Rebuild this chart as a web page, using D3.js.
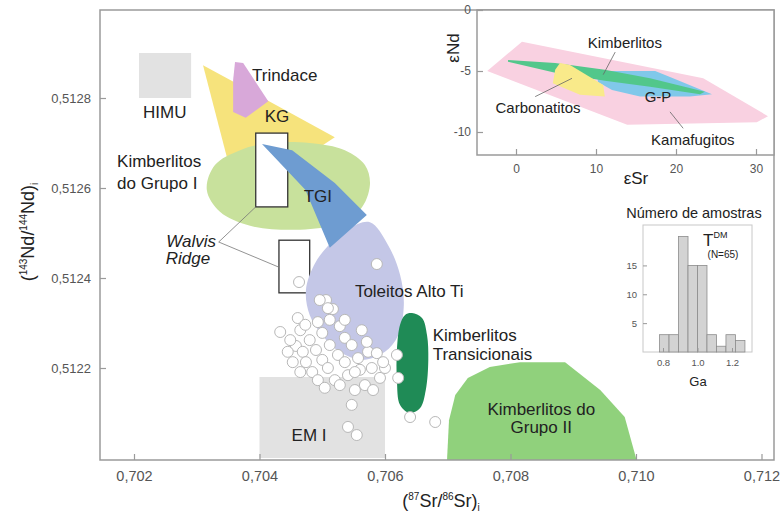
<!DOCTYPE html>
<html><head><meta charset="utf-8">
<script src="https://cdn.jsdelivr.net/npm/d3@7/dist/d3.min.js"></script>
<style>body{margin:0;background:#fff}svg{display:block;font-family:"Liberation Sans",Arial,sans-serif}</style>
</head><body><svg id="c" width="781" height="518"></svg>
<script>
// ---------- MAIN DIAGRAM DATA (87Sr/86Sr vs 143Nd/144Nd) ----------
const xTicks = [0.702, 0.704, 0.706, 0.708, 0.710, 0.712];
const yTicks = [0.5122, 0.5124, 0.5126, 0.5128];

const himuBox = [[0.70208, 0.5128], [0.70291, 0.5129]];
const em1Box = [[0.704, 0.512], [0.706, 0.51218]];
const walvisBoxA = [[0.70394, 0.512558], [0.70445, 0.512722]];
const walvisBoxB = [[0.70431, 0.512367], [0.70480, 0.512484]];

const kgField = [[0.70310,0.512873],[0.70520,0.512713],[0.70465,0.512662],[0.70350,0.512658]];
const trindadeField = [[0.70361,0.51288],[0.70374,0.512878],[0.70414,0.512793],[0.70378,0.512756],[0.70358,0.512769],[0.70358,0.51284]];
const grupoIField = [[0.70316,0.512596],[0.70329,0.512651],[0.70369,0.512684],[0.70417,0.5127],[0.70480,0.5127],[0.70536,0.512684],[0.70568,0.512651],[0.70576,0.512607],[0.70560,0.512551],[0.70512,0.512516],[0.70449,0.512507],[0.70385,0.512516],[0.70337,0.512547]];
const tgiField = [[0.70404,0.512698],[0.70452,0.512684],[0.70520,0.512611],[0.70571,0.51254],[0.70512,0.512467],[0.70473,0.512596]];
const toleitosField = [[0.70509,0.512471],[0.70544,0.512511],[0.70576,0.512524],[0.70605,0.512473],[0.70624,0.512407],[0.70630,0.51234],[0.70621,0.512273],[0.70600,0.512236],[0.70563,0.512218],[0.70528,0.512236],[0.70500,0.512273],[0.70480,0.512318],[0.70474,0.512373],[0.70487,0.512429]];
const transField = [[0.70643,0.512322],[0.70659,0.512311],[0.70667,0.512273],[0.70669,0.512218],[0.70665,0.512151],[0.70656,0.512111],[0.70640,0.5121],[0.70624,0.512118],[0.70619,0.512173],[0.70619,0.51224],[0.70624,0.512296],[0.70632,0.512318]];
const grupoIIField = [[0.70698,0.51194],[0.70699,0.512],[0.70702,0.512084],[0.70712,0.51214],[0.70732,0.512178],[0.70767,0.512202],[0.70815,0.512213],[0.70887,0.512213],[0.70943,0.512151],[0.70982,0.512091],[0.71000,0.512],[0.71002,0.51194]];

const samplesSr = [0.70587,0.70463,0.70433,0.70461,0.70506,0.70517,0.70493,0.70512,0.70528,0.70500,0.70480,0.70458,0.70445,0.70469,0.70490,0.70512,0.70536,0.70547,0.70525,0.70500,0.70474,0.70453,0.70484,0.70509,0.70536,0.70557,0.70573,0.70560,0.70541,0.70520,0.70493,0.70579,0.70592,0.70568,0.70581,0.70552,0.70600,0.70547,0.70541,0.70555,0.70619,0.70621,0.70640,0.70680,0.70509,0.70571,0.70587,0.70465,0.70496,0.70473,0.70449,0.70536,0.70552,0.70504,0.70528,0.70465,0.70563,0.70597];
const samplesNd = [0.512431,0.512391,0.51228,0.512311,0.512351,0.512331,0.512302,0.512307,0.512293,0.512278,0.512262,0.512249,0.512236,0.512236,0.51224,0.512251,0.512267,0.512251,0.512229,0.512218,0.512213,0.512213,0.512191,0.5122,0.512213,0.512222,0.512236,0.512196,0.512184,0.512173,0.512173,0.5122,0.512178,0.512162,0.512151,0.512151,0.5122,0.512118,0.512069,0.512051,0.512229,0.512178,0.512091,0.51208,0.512333,0.512258,0.512233,0.512284,0.512351,0.512296,0.512262,0.512307,0.512191,0.512156,0.512162,0.512191,0.512284,0.512213];

const mainLabels = [
  {t:"HIMU", at:[0.70249,0.512767], a:"middle"},
  {t:"Trindace", at:[0.70388,0.512849], a:"start"},
  {t:"KG", at:[0.70428,0.512758], a:"middle"},
  {t:"Kimberlitos", at:[0.70173,0.512658], a:"start"},
  {t:"do Grupo I", at:[0.70173,0.512611], a:"start"},
  {t:"Walvis", at:[0.70291,0.512482], a:"middle", i:true},
  {t:"Ridge", at:[0.70286,0.512444], a:"middle", i:true},
  {t:"TGI", at:[0.70493,0.512582], a:"middle"},
  {t:"Toleitos Alto Ti", at:[0.70552,0.512369], a:"start"},
  {t:"Kimberlitos", at:[0.70676,0.512273], a:"start"},
  {t:"Transicionais", at:[0.70676,0.512229], a:"start"},
  {t:"Kimberlitos do", at:[0.70849,0.512107], a:"middle"},
  {t:"Grupo II", at:[0.70849,0.512067], a:"middle"},
  {t:"EM I", at:[0.70479,0.512051], a:"middle"}
];
const walvisLeaders = [[[0.70335,0.51248],[0.70394,0.512558]],[[0.70335,0.51248],[0.70431,0.512424]]];

// ---------- INSET: eSr vs eNd ----------
const eSrTicks = [0, 10, 20, 30];
const eNdTicks = [0, -5, -10];
const kamafugitosField = [[-3.6,-5.0],[0.75,-2.6],[23.4,-5.6],[31.5,-8.7],[30.1,-9.2],[13.9,-9.4]];
const gpField = [[10.1,-5.25],[12.0,-5.0],[17.4,-5.0],[19.25,-5.5],[24.5,-6.9],[21.75,-7.1],[15.5,-7.1],[12.0,-6.55],[10.25,-5.9]];
const kimberlitosBand = [[-1.0,-4.1],[4.9,-4.35],[11.1,-4.9],[16.75,-5.6],[23.6,-6.7],[23.0,-6.9],[16.75,-6.3],[11.1,-5.8],[4.9,-5.15],[-1.0,-4.25]];
const carbonatitosField = [[5.5,-4.35],[6.75,-4.5],[10.9,-6.15],[11.1,-7.1],[8.0,-6.95],[4.6,-6.0],[4.9,-4.9]];
const insetLabels = [
  {t:"Kimberlitos", at:[13.6,-2.7]},
  {t:"Carbonatitos", at:[2.75,-8.0]},
  {t:"G-P", at:[17.75,-7.1]},
  {t:"Kamafugitos", at:[22.1,-10.65]}
];
const insetLeaders = [[[12.4,-3.45],[10.9,-5.3]],[[2.4,-7.1],[7.0,-5.6]],[[20.9,-9.7],[19.25,-8.35]]];

// ---------- INSET: T_DM histogram ----------
const histBinStarts = [0.78, 0.835, 0.89, 0.945, 1.0, 1.055, 1.11, 1.165, 1.22];
const histCounts = [3, 3, 20, 15, 15, 3, 1, 3, 2];
const histBinWidth = 0.055;
const histXTicks = [0.8, 1.0, 1.2];
const histYTicks = [5, 10, 15];

// ================= DRAW =================
const svg = d3.select("#c");
const ink = "#222", axisGray = "#9a9a9a", tickText = "#555";

const P = {l:100, r:774, t:10, b:460};
const x = d3.scaleLinear().domain([0.702, 0.712]).range([134, 761.5]);
const y = d3.scaleLinear().domain([0.5122, 0.5128]).range([368, 98]);

svg.append("defs").append("clipPath").attr("id","clipMain")
  .append("rect").attr("x",P.l).attr("y",P.t).attr("width",P.r-P.l).attr("height",P.b-P.t);

const g = svg.append("g").attr("clip-path","url(#clipMain)");
const path = (xs, ys, curve) => d3.line().x(d=>xs(d[0])).y(d=>ys(d[1])).curve(curve);
const lin = d3.curveLinearClosed, smooth = d3.curveCatmullRomClosed.alpha(0.5);

function box(sel, b, fill, stroke, sw){
  sel.append("rect").attr("x", x(b[0][0])).attr("y", y(b[1][1]))
    .attr("width", x(b[1][0]) - x(b[0][0])).attr("height", y(b[0][1]) - y(b[1][1]))
    .attr("fill", fill).attr("stroke", stroke || "none").attr("stroke-width", sw || 0);
}

box(g, himuBox, "#e2e2e2");
box(g, em1Box, "#e2e2e2");
g.append("path").attr("d", path(x,y,lin)(kgField)).attr("fill","#f6e37c");
g.append("path").attr("d", path(x,y,lin)(trindadeField)).attr("fill","#d8a8d9");
g.append("path").attr("d", path(x,y,smooth)(grupoIField)).attr("fill","#c8e19c");
box(g, walvisBoxA, "#fff", "#333", 1.3);
box(g, walvisBoxB, "#fff", "#333", 1.3);
g.append("path").attr("d", path(x,y,smooth)(toleitosField)).attr("fill","#c4c7e7");
g.append("path").attr("d", path(x,y,lin)(tgiField)).attr("fill","#6e9cd1");
g.append("path").attr("d", path(x,y,smooth)(transField)).attr("fill","#1f8b56");
g.append("path").attr("d", path(x,y,d3.curveLinearClosed)(grupoIIField)).attr("fill","#90d17c");

walvisLeaders.forEach(l => g.append("line")
  .attr("x1", x(l[0][0])).attr("y1", y(l[0][1])).attr("x2", x(l[1][0])).attr("y2", y(l[1][1]))
  .attr("stroke","#777").attr("stroke-width",0.8));

g.selectAll("circle.s").data(samplesSr.map((s,i)=>[s, samplesNd[i]])).join("circle")
  .attr("class","s").attr("cx", d=>x(d[0])).attr("cy", d=>y(d[1])).attr("r", 5.5)
  .attr("fill","#fff").attr("stroke","#b8b8b8").attr("stroke-width",1);

mainLabels.forEach(L => g.append("text").attr("x", x(L.at[0])).attr("y", y(L.at[1]))
  .attr("text-anchor", L.a).attr("dominant-baseline","central")
  .attr("font-size", 17).attr("font-style", L.i ? "italic" : "normal").attr("fill", ink).text(L.t));

// frame
svg.append("path").attr("d", `M${P.l},${P.t}H${P.r}V${P.b}H${P.l}Z`).attr("fill","none")
  .attr("stroke", axisGray).attr("stroke-width", 1.5);

// axes
const fmtX = d => d3.format(".3f")(d).replace(".", ",");
const fmtY = d => d3.format(".4f")(d).replace(".", ",");
const ax = svg.append("g").attr("transform", `translate(0,${P.b})`)
  .call(d3.axisBottom(x).tickValues(xTicks).tickFormat(fmtX).tickSizeInner(-6).tickSizeOuter(0).tickPadding(11));
const ay = svg.append("g").attr("transform", `translate(${P.l},0)`)
  .call(d3.axisLeft(y).tickValues(yTicks).tickFormat(fmtY).tickSizeInner(-6).tickSizeOuter(0).tickPadding(9));
[ax, ay].forEach(a => { a.select(".domain").remove();
  a.selectAll(".tick line").attr("stroke", axisGray).attr("stroke-width",1.2);
  a.selectAll("text").attr("fill", tickText).attr("font-family","Liberation Sans, Arial, sans-serif"); });
ax.selectAll("text").attr("font-size", 14.5);
ay.selectAll("text").attr("font-size", 13);

// axis titles
const xt = svg.append("text").attr("x", 441).attr("y", 507).attr("text-anchor","middle")
  .attr("font-size", 18).attr("fill", ink);
xt.append("tspan").text("(");
xt.append("tspan").attr("font-size", 10).attr("dy", -7).text("87");
xt.append("tspan").attr("dy", 7).text("Sr/");
xt.append("tspan").attr("font-size", 10).attr("dy", -7).text("86");
xt.append("tspan").attr("dy", 7).text("Sr)");
xt.append("tspan").attr("font-size", 10).attr("dy", 4).text("i");

const yt = svg.append("text").attr("transform", "translate(34,232) rotate(-90)").attr("text-anchor","middle")
  .attr("font-size", 18).attr("fill", ink);
yt.append("tspan").text("(");
yt.append("tspan").attr("font-size", 10).attr("dy", -7).text("143");
yt.append("tspan").attr("dy", 7).text("Nd/");
yt.append("tspan").attr("font-size", 10).attr("dy", -7).text("144");
yt.append("tspan").attr("dy", 7).text("Nd)");
yt.append("tspan").attr("font-size", 10).attr("dy", 4).text("i");

// ---------- inset 1 ----------
const E = {l:477, r:774, t:10, b:155};
const xe = d3.scaleLinear().domain([0, 30]).range([516, 756]);
const ye = d3.scaleLinear().domain([0, -10]).range([10, 132]);
svg.append("defs").append("clipPath").attr("id","clipE")
  .append("rect").attr("x",E.l).attr("y",E.t).attr("width",E.r-E.l).attr("height",E.b-E.t);
svg.append("rect").attr("x",E.l).attr("y",E.t).attr("width",E.r-E.l).attr("height",E.b-E.t).attr("fill","#fff");
const ge = svg.append("g").attr("clip-path","url(#clipE)");
ge.append("path").attr("d", path(xe,ye,lin)(kamafugitosField)).attr("fill","#f9d1e1");
ge.append("path").attr("d", path(xe,ye,lin)(gpField)).attr("fill","#80c8ea");
ge.append("path").attr("d", path(xe,ye,lin)(kimberlitosBand)).attr("fill","#52c78b");
ge.append("path").attr("d", path(xe,ye,lin)(carbonatitosField)).attr("fill","#f9ea8a");
insetLeaders.forEach(l => ge.append("line")
  .attr("x1", xe(l[0][0])).attr("y1", ye(l[0][1])).attr("x2", xe(l[1][0])).attr("y2", ye(l[1][1]))
  .attr("stroke","#666").attr("stroke-width",0.8));
insetLabels.forEach(L => ge.append("text").attr("x", xe(L.at[0])).attr("y", ye(L.at[1]))
  .attr("text-anchor","middle").attr("dominant-baseline","central").attr("font-size", 15).attr("fill", ink).text(L.t));
svg.append("rect").attr("x",E.l).attr("y",E.t).attr("width",E.r-E.l).attr("height",E.b-E.t)
  .attr("fill","none").attr("stroke",axisGray).attr("stroke-width",1.5);
const axe = svg.append("g").attr("transform", `translate(0,${E.b})`)
  .call(d3.axisBottom(xe).tickValues(eSrTicks).tickSizeInner(-6).tickSizeOuter(0).tickPadding(9));
const aye = svg.append("g").attr("transform", `translate(${E.l},0)`)
  .call(d3.axisLeft(ye).tickValues(eNdTicks).tickSizeInner(-6).tickSizeOuter(0).tickPadding(6).tickFormat(d3.format("d")));
[axe, aye].forEach(a => { a.select(".domain").remove();
  a.selectAll(".tick line").attr("stroke", axisGray).attr("stroke-width",1.2);
  a.selectAll("text").attr("fill", tickText).attr("font-size", 12).attr("font-family","Liberation Sans, Arial, sans-serif"); });
aye.selectAll("text").text(d => d < 0 ? "-" + Math.abs(d) : d);
svg.append("text").attr("x", 636).attr("y", 184).attr("text-anchor","middle").attr("font-size", 17).attr("fill", ink).text("εSr");
svg.append("text").attr("transform","translate(459,48) rotate(-90)").attr("text-anchor","middle").attr("font-size", 17).attr("fill", ink).text("εNd");

// ---------- inset 2: histogram ----------
const H = {l:643, r:752, t:225, b:352};
const xh = d3.scaleLinear().domain([0.684, 1.316]).range([H.l, H.r]);
const yh = d3.scaleLinear().domain([0, 22]).range([H.b, H.t]);
svg.append("rect").attr("x",H.l).attr("y",H.t).attr("width",H.r-H.l).attr("height",H.b-H.t)
  .attr("fill","#fff").attr("stroke","#c8c8c8").attr("stroke-width",1);
svg.append("g").selectAll("rect").data(histCounts).join("rect")
  .attr("x", (d,i) => xh(histBinStarts[i])).attr("y", d => yh(d))
  .attr("width", (d,i) => xh(histBinStarts[i] + histBinWidth) - xh(histBinStarts[i]))
  .attr("height", d => yh(0) - yh(d))
  .attr("fill","#d3d3d3").attr("stroke","#8c8c8c").attr("stroke-width",0.8);
const axh = svg.append("g").attr("transform", `translate(0,${H.b})`)
  .call(d3.axisBottom(xh).tickValues(histXTicks).tickFormat(d3.format(".1f")).tickSizeInner(-4).tickSizeOuter(0).tickPadding(7));
const ayh = svg.append("g").attr("transform", `translate(${H.l},0)`)
  .call(d3.axisLeft(yh).tickValues(histYTicks).tickSizeInner(-4).tickSizeOuter(0).tickPadding(6));
[axh, ayh].forEach(a => { a.select(".domain").remove();
  a.selectAll(".tick line").attr("stroke", "#999");
  a.selectAll("text").attr("fill", tickText).attr("font-size", 9.5).attr("font-family","Liberation Sans, Arial, sans-serif"); });
svg.append("text").attr("x", 694).attr("y", 213).attr("text-anchor","middle").attr("dominant-baseline","central")
  .attr("font-size", 14.5).attr("fill", ink).text("Número de amostras");
const td = svg.append("text").attr("x", 703).attr("y", 246).attr("font-size", 17).attr("fill", ink);
td.append("tspan").text("T");
td.append("tspan").attr("font-size", 9).attr("dy", -8).text("DM");
svg.append("text").attr("x", 723).attr("y", 254).attr("text-anchor","middle").attr("dominant-baseline","central")
  .attr("font-size", 10).attr("fill", ink).text("(N=65)");
svg.append("text").attr("x", 698).attr("y", 381).attr("text-anchor","middle").attr("dominant-baseline","central")
  .attr("font-size", 13).attr("fill", ink).text("Ga");
</script></body></html>
